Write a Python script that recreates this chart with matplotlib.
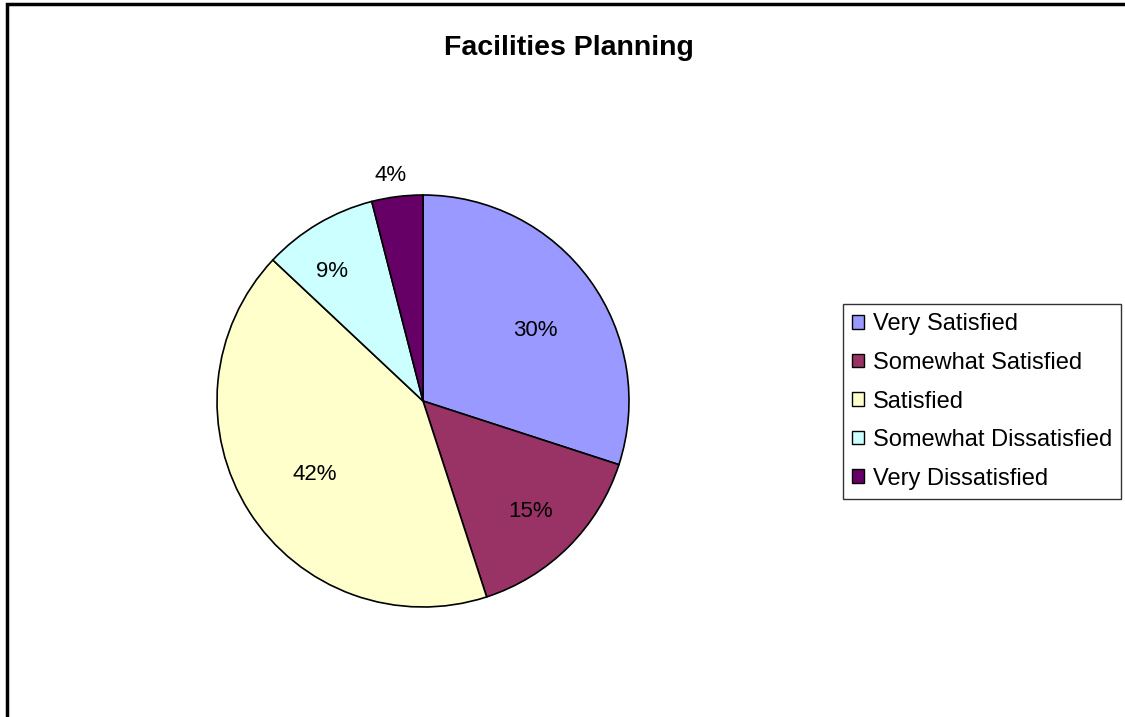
import numpy as np
import matplotlib.pyplot as plt
from matplotlib.patches import Rectangle

plt.rcParams['font.family'] = ['Liberation Sans', 'DejaVu Sans']

# survey responses (percent)
categories = ['Very Satisfied', 'Somewhat Satisfied', 'Satisfied',
              'Somewhat Dissatisfied', 'Very Dissatisfied']
shares = [30, 15, 42, 9, 4]
colors = ['#9999FF', '#993366', '#FFFFCC', '#CCFFFF', '#660066']
title = 'Facilities Planning'

# percent label placement: fraction of radius, and angle nudge (deg)
label_dist = [0.65, 0.74, 0.63, 0.78, 1.12]
label_nudge = [-3, 0, 1, 4, 1]

W, H = 1125, 717
fig = plt.figure(figsize=(W / 100, H / 100), dpi=100)
ax = fig.add_axes([0, 0, 1, 1])

cx, cy, r = 423, H - 401, 206
wedges, _ = ax.pie(shares, colors=colors, startangle=90, counterclock=False,
                   center=(cx, cy), radius=r, frame=True,
                   wedgeprops=dict(edgecolor='black', linewidth=1.2))
ax.set_xlim(0, W)
ax.set_ylim(0, H)
ax.set_aspect('equal')
ax.axis('off')

for w, val, d, nudge in zip(wedges, shares, label_dist, label_nudge):
    mid = np.deg2rad((w.theta1 + w.theta2) / 2 + nudge)
    ax.text(cx + d * r * np.cos(mid), cy + d * r * np.sin(mid), f'{val}%',
            ha='center', va='center_baseline', fontsize=16, color='black')

fig.text(569 / W, 1 - 48 / H, title, ha='center', va='center',
         fontsize=20.5, fontweight='bold')

leg = fig.legend(wedges, categories, loc='upper left',
                 bbox_to_anchor=(843 / W, 1 - 304 / H),
                 bbox_transform=fig.transFigure, borderaxespad=0,
                 fontsize=17, frameon=True, fancybox=False,
                 handlelength=0.5, handleheight=0.5, handletextpad=0.35,
                 labelspacing=0.7, borderpad=0.4)
leg.get_frame().set_edgecolor('black')
leg.get_frame().set_linewidth(1.0)
for h in leg.legend_handles:
    h.set_edgecolor('black')
    h.set_linewidth(1.0)

# outer chart frame, clipped at the right and bottom edges
fig.patches.append(Rectangle((7 / W, -0.1), 1.2, 1 - 4 / H + 0.1,
                             transform=fig.transFigure, fill=False,
                             edgecolor='black', linewidth=2.5))

fig.savefig('out.png', dpi=100)
